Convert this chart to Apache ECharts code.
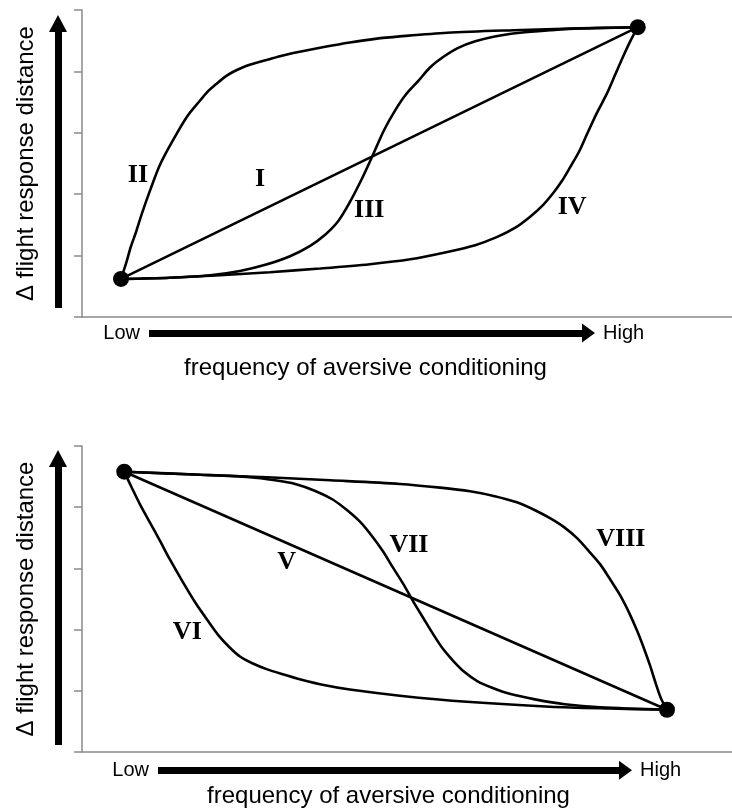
<!DOCTYPE html>
<html><head><meta charset="utf-8">
<script src="https://cdn.jsdelivr.net/npm/echarts@6/dist/echarts.min.js"></script>
<style>html,body{margin:0;padding:0;background:#fff}#c{width:732px;height:809px}</style>
</head><body><div id="c"></div>
<script>
// ---- data (x: 0..100 frequency, y: 0..5 response) ----
const yTicks = [0, 1, 2, 3, 4, 5];
const xRange = [0, 100];
const xLowHigh = ['Low', 'High'];
const xTitle = 'frequency of aversive conditioning';
const yTitle = '\u0394 flight response distance';

// top panel
const curveI = [[6.0, 0.62], [85.5, 4.72]];
const curveII = [[6.0, 0.62], [6.8, 0.88], [7.5, 1.14], [8.3, 1.38], [9.2, 1.68], [10.5, 2.07], [12.0, 2.48], [14.0, 2.88], [16.2, 3.27], [18.2, 3.53], [19.4, 3.68], [20.6, 3.79], [22.0, 3.91], [23.2, 3.99], [24.6, 4.06], [25.8, 4.11], [27.1, 4.15], [28.5, 4.19], [30.9, 4.26], [33.5, 4.32], [37.4, 4.40], [41.2, 4.47], [45.1, 4.53], [48.9, 4.57], [56.2, 4.63], [66.3, 4.67], [76.6, 4.70], [85.5, 4.72]];
const curveIII = [[6.0, 0.62], [13.5, 0.64], [19.7, 0.68], [24.3, 0.75], [28.2, 0.85], [32.0, 0.99], [35.1, 1.16], [37.4, 1.34], [39.4, 1.56], [41.2, 1.87], [43.1, 2.26], [44.8, 2.65], [46.5, 3.05], [48.2, 3.37], [49.8, 3.62], [51.7, 3.84], [53.5, 4.06], [55.5, 4.23], [57.8, 4.38], [60.5, 4.49], [63.5, 4.57], [67.4, 4.63], [72.0, 4.67], [76.6, 4.70], [85.5, 4.72]];
const curveIV = [[6.0, 0.62], [13.5, 0.64], [21.2, 0.68], [28.9, 0.73], [36.6, 0.79], [44.3, 0.86], [50.5, 0.94], [56.2, 1.06], [60.5, 1.17], [63.8, 1.30], [66.6, 1.45], [68.9, 1.63], [70.8, 1.81], [72.5, 2.02], [73.8, 2.21], [75.1, 2.44], [76.5, 2.70], [77.7, 2.98], [79.2, 3.32], [80.8, 3.65], [82.0, 3.94], [83.2, 4.23], [84.3, 4.48], [85.5, 4.72]];
const dotsTop = [[6.0, 0.62], [85.5, 4.72]];
const labelsTop = ['I', 'II', 'III', 'IV'];
const labelsTopXY = [[27.4, 2.25], [8.6, 2.31], [44.2, 1.73], [75.4, 1.79]];

// bottom panel
const curveV = [[6.5, 4.58], [90.0, 0.69]];
const curveVI = [[6.5, 4.58], [7.7, 4.31], [8.9, 4.05], [10.5, 3.74], [12.0, 3.45], [13.5, 3.15], [15.5, 2.78], [17.5, 2.43], [19.4, 2.14], [21.2, 1.88], [22.8, 1.70], [24.3, 1.56], [26.2, 1.45], [28.5, 1.35], [30.9, 1.27], [33.5, 1.19], [37.4, 1.09], [41.2, 1.02], [48.9, 0.92], [59.2, 0.82], [72.0, 0.74], [81.2, 0.71], [90.0, 0.69]];
const curveVII = [[6.5, 4.58], [18.2, 4.53], [25.8, 4.49], [29.7, 4.44], [32.8, 4.38], [35.8, 4.27], [38.5, 4.13], [40.8, 3.95], [42.8, 3.76], [44.6, 3.53], [46.3, 3.28], [47.8, 3.02], [49.4, 2.75], [50.9, 2.47], [52.5, 2.19], [54.0, 1.93], [55.5, 1.69], [57.1, 1.49], [58.8, 1.31], [60.8, 1.16], [63.1, 1.05], [65.8, 0.95], [69.7, 0.86], [74.3, 0.78], [79.7, 0.73], [90.0, 0.69]];
const curveVIII = [[6.5, 4.58], [18.2, 4.53], [28.5, 4.49], [38.2, 4.44], [48.9, 4.38], [55.1, 4.32], [59.7, 4.26], [63.5, 4.18], [66.9, 4.08], [69.7, 3.95], [72.0, 3.82], [74.2, 3.67], [76.2, 3.49], [78.0, 3.28], [79.7, 3.07], [81.2, 2.83], [82.8, 2.56], [84.2, 2.27], [85.4, 1.98], [86.5, 1.68], [87.4, 1.41], [88.3, 1.11], [89.1, 0.87], [90.0, 0.69]];
const dotsBottom = [[6.5, 4.58], [90.0, 0.69]];
const labelsBottom = ['V', 'VI', 'VII', 'VIII'];
const labelsBottomXY = [[31.5, 3.10], [16.2, 1.96], [50.3, 3.38], [82.9, 3.48]];

// ---- chart ----
const SANS = 'Liberation Sans, Arial, sans-serif';
const SERIF = 'Liberation Serif, Times New Roman, serif';
const AXIS_GRAY = '#8a8a8a';

function plotX(gridIndex) {
  return {
    gridIndex, type: 'value', min: xRange[0], max: xRange[1],
    axisLine: { show: true, onZero: false, lineStyle: { color: AXIS_GRAY, width: 1.5 } },
    axisTick: { show: false }, axisLabel: { show: false }, splitLine: { show: false }
  };
}
function plotY(gridIndex) {
  return {
    gridIndex, type: 'value', min: yTicks[0], max: yTicks[yTicks.length - 1], interval: 1,
    name: yTitle, nameLocation: 'middle', nameRotate: 90, nameGap: 44,
    nameTextStyle: { fontFamily: SANS, fontSize: 24, color: '#000' },
    axisLine: { show: true, onZero: false, lineStyle: { color: AXIS_GRAY, width: 1.5 } },
    axisTick: { show: true, inside: false, length: 8, lineStyle: { color: AXIS_GRAY, width: 1.5 } },
    axisLabel: { show: false }, splitLine: { show: false }
  };
}
function hidden(gridIndex) {
  return { gridIndex, type: 'value', min: 0, max: 1, show: false };
}
function arrowLine(headW, headL) {
  return {
    show: true, onZero: false,
    lineStyle: { color: '#000', width: 7, cap: 'butt' },
    symbol: ['none', 'triangle'], symbolSize: [headW, headL], symbolOffset: [0, headL / 2]
  };
}
function arrowX(gridIndex, titleGap) {
  return [
    { gridIndex, type: 'value', min: 0, max: 1, position: 'bottom',
      name: xTitle, nameLocation: 'middle', nameGap: titleGap,
      nameTextStyle: { fontFamily: SANS, fontSize: 24, color: '#000' },
      axisLine: arrowLine(19, 13), axisTick: { show: false }, axisLabel: { show: false }, splitLine: { show: false } },
    { gridIndex, type: 'value', min: 0, max: 1, position: 'bottom',
      name: xLowHigh[0], nameLocation: 'start', nameGap: 9,
      nameTextStyle: { fontFamily: SANS, fontSize: 20, color: '#000' },
      axisLine: { show: false }, axisTick: { show: false }, axisLabel: { show: false }, splitLine: { show: false } },
    { gridIndex, type: 'value', min: 0, max: 1, position: 'bottom',
      name: xLowHigh[1], nameLocation: 'end', nameGap: 21,
      nameTextStyle: { fontFamily: SANS, fontSize: 20, color: '#000' },
      axisLine: { show: false }, axisTick: { show: false }, axisLabel: { show: false }, splitLine: { show: false } }
  ];
}
function arrowY(gridIndex) {
  return { gridIndex, type: 'value', min: 0, max: 1, position: 'left',
    axisLine: arrowLine(18, 17), axisTick: { show: false }, axisLabel: { show: false }, splitLine: { show: false } };
}

function curve(data, xi, yi) {
  return { type: 'line', xAxisIndex: xi, yAxisIndex: yi, data, smooth: 0.3,
    symbol: 'none', lineStyle: { color: '#000', width: 2.6 }, z: 3, silent: true };
}
function dots(data, xi, yi) {
  return { type: 'scatter', xAxisIndex: xi, yAxisIndex: yi, data, symbol: 'circle', symbolSize: 16,
    itemStyle: { color: '#000', opacity: 1 }, z: 5, silent: true };
}
function labels(names, xy, xi, yi) {
  return { type: 'scatter', xAxisIndex: xi, yAxisIndex: yi, symbolSize: 0,
    itemStyle: { color: 'rgba(0,0,0,0)', opacity: 1 },
    data: names.map((n, i) => ({ name: n, value: xy[i] })), z: 6, silent: true,
    label: { show: true, position: 'inside', formatter: '{b}', fontFamily: SERIF, fontWeight: 'bold',
      fontSize: 26, color: '#000', opacity: 1, align: 'center', verticalAlign: 'middle' } };
}

const option = {
  animation: false,
  backgroundColor: '#fff',
  grid: [
    { left: 82, top: 10, width: 650, height: 307 },   // 0 top plot
    { left: 82, top: 446, width: 650, height: 306 },  // 1 bottom plot
    { left: 149, top: 332, width: 433, height: 1 },   // 2 top x arrow
    { left: 158, top: 770, width: 461, height: 1 },   // 3 bottom x arrow
    { left: 58, top: 32, width: 10, height: 276 },    // 4 top y arrow
    { left: 58, top: 467, width: 10, height: 278 }    // 5 bottom y arrow
  ],
  xAxis: [plotX(0), plotX(1)].concat(arrowX(2, 23), arrowX(3, 14), [hidden(4), hidden(5)]),
  yAxis: [plotY(0), plotY(1), hidden(2), hidden(3), arrowY(4), arrowY(5)],
  series: [
    curve(curveI, 0, 0), curve(curveII, 0, 0), curve(curveIII, 0, 0), curve(curveIV, 0, 0),
    dots(dotsTop, 0, 0), labels(labelsTop, labelsTopXY, 0, 0),
    curve(curveV, 1, 1), curve(curveVI, 1, 1), curve(curveVII, 1, 1), curve(curveVIII, 1, 1),
    dots(dotsBottom, 1, 1), labels(labelsBottom, labelsBottomXY, 1, 1)
  ]
};
const chart = echarts.init(document.getElementById('c'), null, { renderer: 'canvas' });
chart.setOption(option);
</script>
</body></html>
